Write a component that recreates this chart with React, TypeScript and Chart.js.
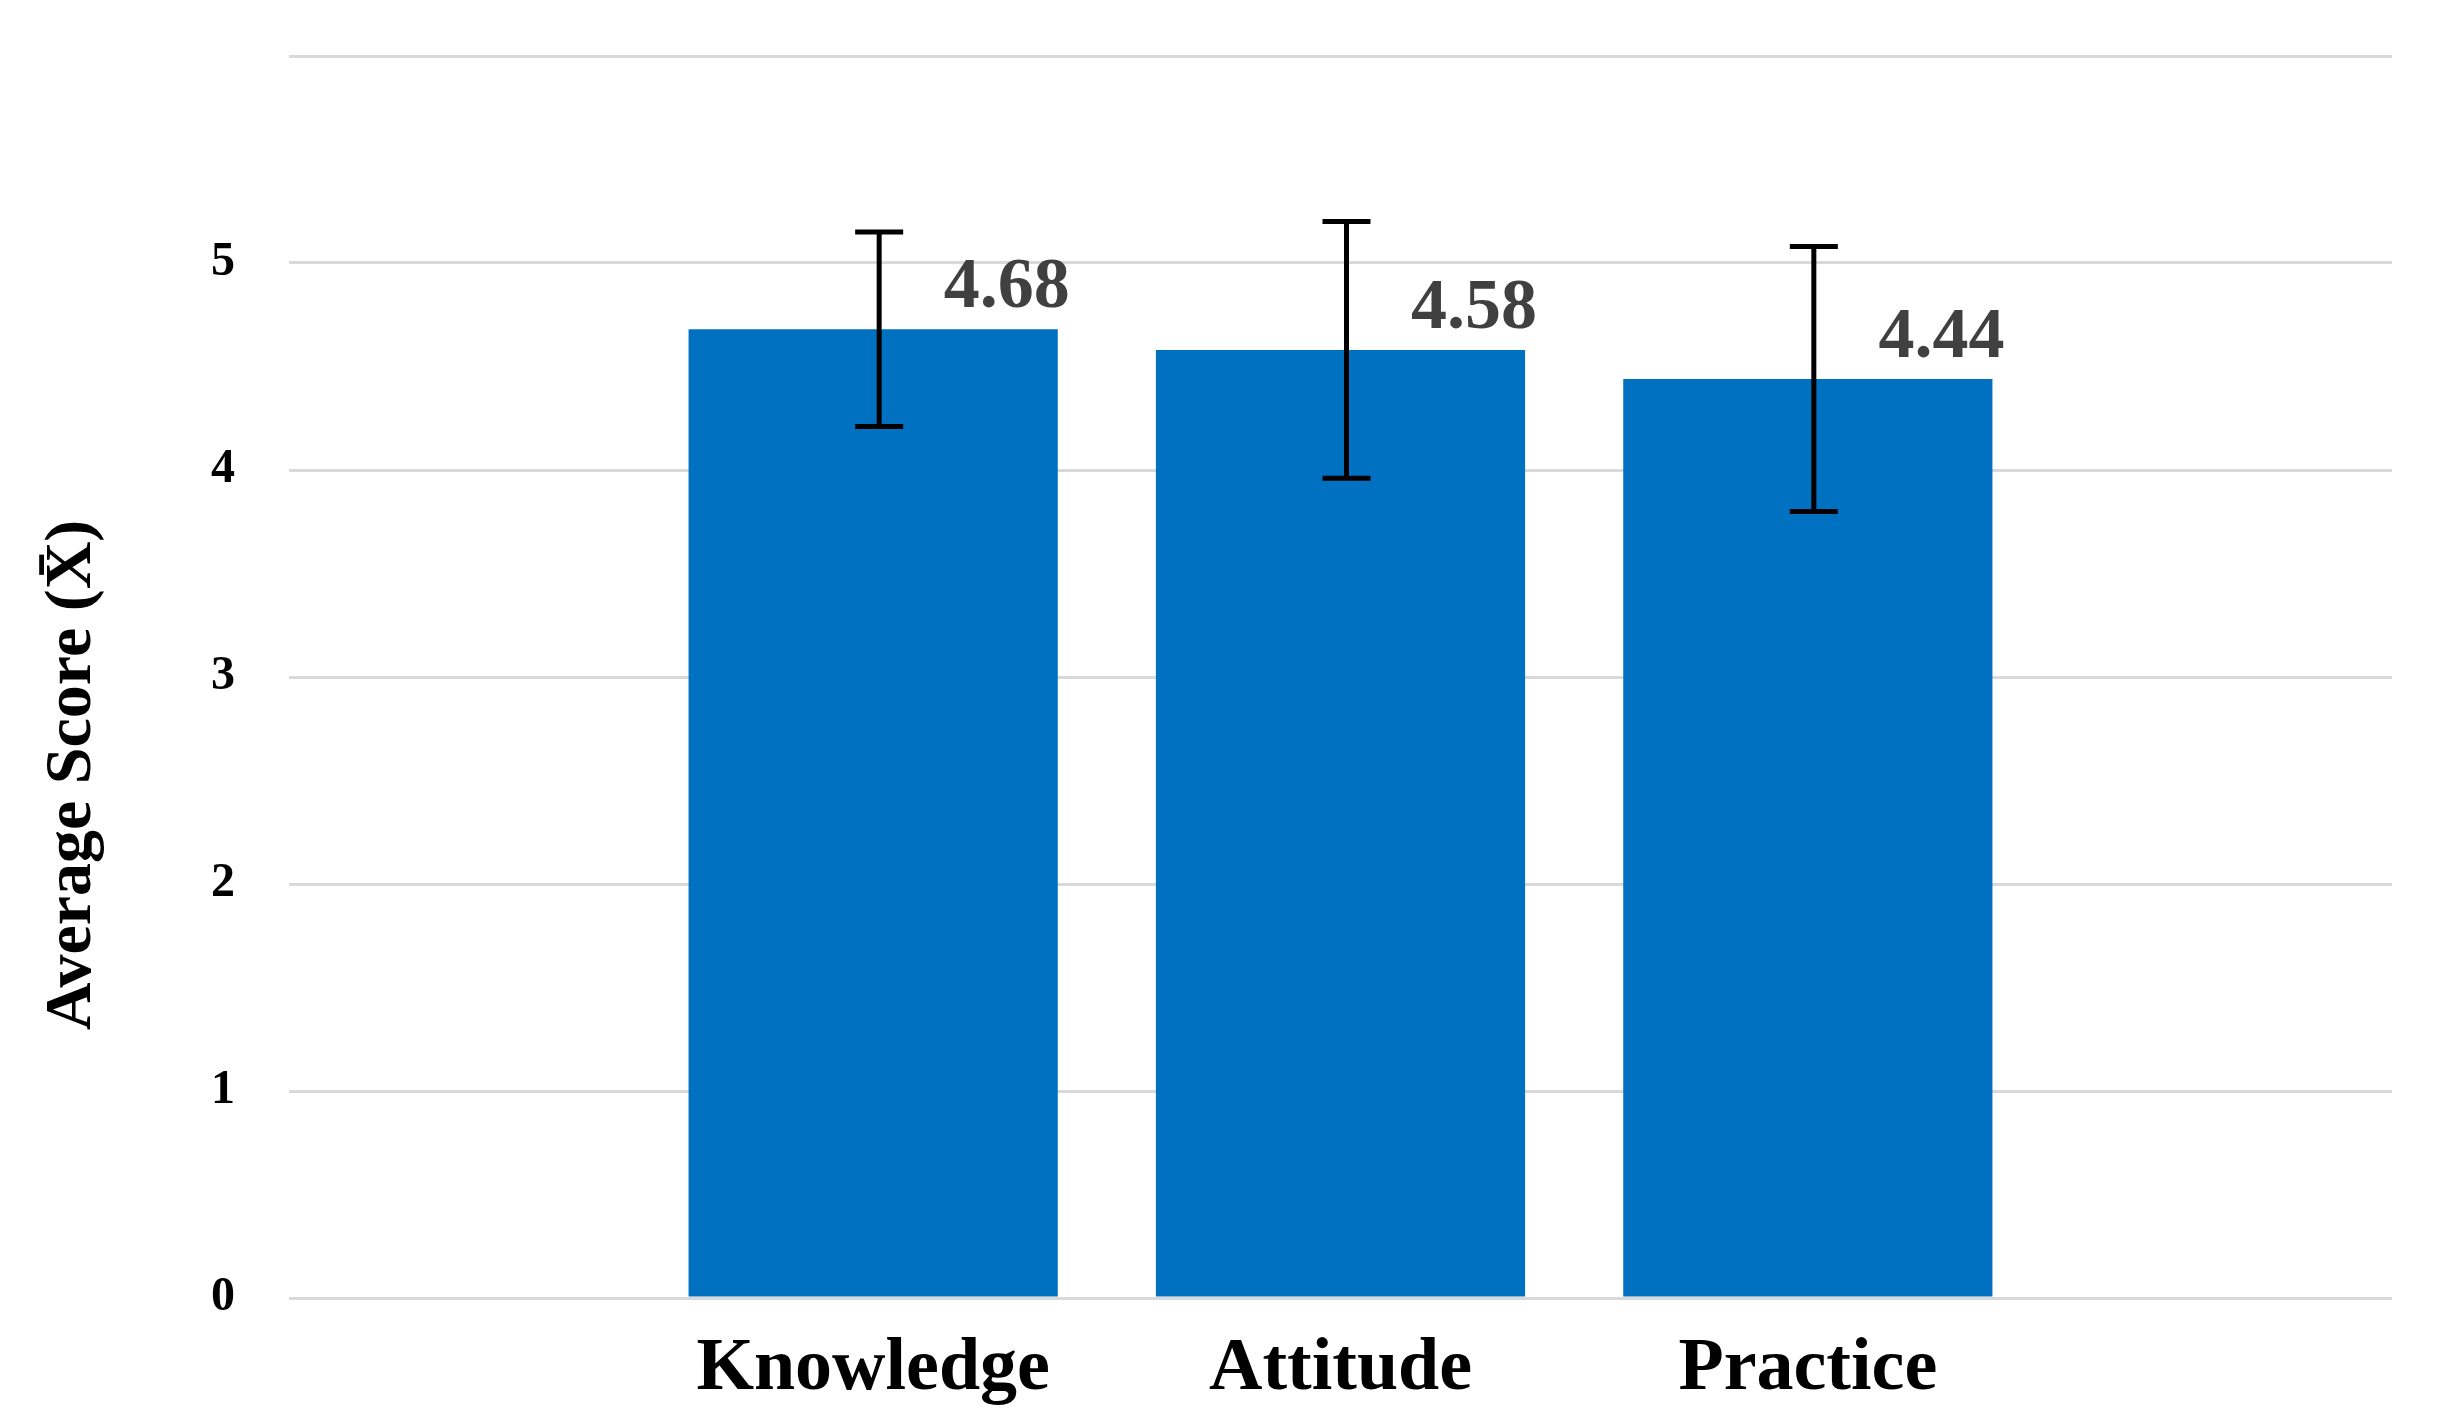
import React, { useEffect, useRef } from 'react';
import { Chart, registerables } from 'chart.js';

Chart.register(...registerables);

const categories = ['Knowledge', 'Attitude', 'Practice'];
const means = [4.68, 4.58, 4.44];
const errors = [0.47, 0.62, 0.64];
const yTickValues = [0, 1, 2, 3, 4, 5];
const yAxisMax = 6;
const yAxisTitle = 'Average Score (X\u0304)';

const FONT = '"Liberation Serif", "Times New Roman", serif';

const overlayPlugin = {
  id: 'overlay',
  afterDatasetsDraw(chart: any) {
    const ctx = chart.ctx;
    const meta = chart.getDatasetMeta(0);
    const yScale = chart.scales.y;
    ctx.save();
    meta.data.forEach((bar: any, i: number) => {
      const cx = bar.x + 6;
      const top = yScale.getPixelForValue(means[i] + errors[i]);
      const bot = yScale.getPixelForValue(means[i] - errors[i]);
      ctx.strokeStyle = '#000000';
      ctx.lineWidth = 5;
      ctx.lineCap = 'butt';
      ctx.beginPath();
      ctx.moveTo(cx, top);
      ctx.lineTo(cx, bot);
      ctx.moveTo(cx - 24, top);
      ctx.lineTo(cx + 24, top);
      ctx.moveTo(cx - 24, bot);
      ctx.lineTo(cx + 24, bot);
      ctx.stroke();

      ctx.font = `bold 72px ${FONT}`;
      ctx.fillStyle = '#404040';
      ctx.textAlign = 'right';
      ctx.textBaseline = 'alphabetic';
      ctx.fillText(means[i].toFixed(2), bar.x + bar.width / 2 + 12, bar.y - 22);
    });

    const area = chart.chartArea;
    ctx.translate(90, (area.top + area.bottom) / 2 + 98);
    ctx.rotate(-Math.PI / 2);
    ctx.font = `bold 66px ${FONT}`;
    ctx.fillStyle = '#000000';
    ctx.textAlign = 'center';
    ctx.textBaseline = 'alphabetic';
    ctx.fillText(yAxisTitle, 0, 0);
    ctx.restore();
  },
};

export default function App() {
  const canvasRef = useRef<HTMLCanvasElement | null>(null);

  useEffect(() => {
    const canvas = canvasRef.current;
    if (!canvas) return;
    const chart = new Chart(canvas, {
      type: 'bar',
      data: {
        datasets: [
          {
            data: categories.map((_, i) => ({ x: i, y: means[i] })),
            backgroundColor: '#0070C0',
            borderWidth: 0,
            categoryPercentage: 1,
            barPercentage: 0.79,
          },
        ],
      },
      plugins: [overlayPlugin],
      options: {
        animation: false,
        responsive: false,
        devicePixelRatio: 1,
        layout: { padding: { top: 56, right: 47, left: 0, bottom: 0 } },
        plugins: {
          legend: { display: false },
          tooltip: { enabled: false },
          title: { display: false },
        },
        scales: {
          x: {
            type: 'linear',
            offset: false,
            min: -1.25,
            max: categories.length + 0.25,
            grid: { display: false },
            border: { display: false },
            afterBuildTicks: (scale: any) => {
              scale.ticks = categories.map((_, i) => ({ value: i }));
            },
            afterFit: (scale: any) => {
              scale.height = 125;
              scale.paddingLeft = 0;
              scale.paddingRight = 0;
            },
            ticks: {
              autoSkip: false,
              maxRotation: 0,
              minRotation: 0,
              padding: 19,
              color: '#000000',
              font: { family: FONT, size: 74, weight: 'bold' },
              callback: (v: any) => categories[Math.round(Number(v))] ?? '',
            },
          },
          y: {
            min: 0,
            max: yAxisMax,
            grid: { color: '#d9d9d9', lineWidth: 3, drawTicks: false },
            border: { display: false },
            afterBuildTicks: (scale: any) => {
              scale.ticks = [...yTickValues, yAxisMax].map((v) => ({ value: v }));
            },
            afterFit: (scale: any) => {
              scale.width = 289;
              scale.paddingTop = 0;
              scale.paddingBottom = 0;
            },
            ticks: {
              padding: 54,
              color: '#000000',
              font: { family: FONT, size: 48, weight: 'bold' },
              callback: (v: any) => (yTickValues.includes(Number(v)) ? String(v) : ''),
            },
          },
        },
      },
    } as any);
    return () => chart.destroy();
  }, []);

  return (
    <div style={{ position: 'fixed', left: 0, top: 0, width: 2439, height: 1423, background: '#ffffff' }}>
      <canvas ref={canvasRef} width={2439} height={1423} style={{ display: 'block' }} />
    </div>
  );
}
